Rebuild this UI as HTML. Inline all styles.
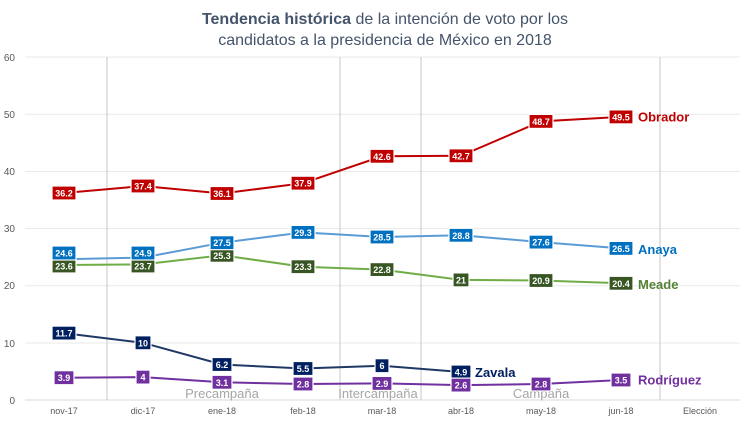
<!DOCTYPE html>
<html><head><meta charset="utf-8"><style>body{margin:0;background:#fff}svg{display:block}</style></head><body>
<svg width="750" height="422" xmlns="http://www.w3.org/2000/svg" font-family="Liberation Sans, sans-serif">
<text x="385" y="24" text-anchor="middle" font-size="16" fill="#44546a"><tspan font-weight="bold">Tendencia histórica</tspan> de la intención de voto por los</text>
<text x="385" y="45" text-anchor="middle" font-size="16" fill="#44546a">candidatos a la presidencia de México en 2018</text>
<g stroke="#e8e8e8" stroke-width="1">
<line x1="25" y1="57" x2="740" y2="57"/><line x1="25" y1="114.2" x2="740" y2="114.2"/><line x1="25" y1="171.4" x2="740" y2="171.4"/><line x1="25" y1="228.6" x2="740" y2="228.6"/><line x1="25" y1="285.8" x2="740" y2="285.8"/><line x1="25" y1="343" x2="740" y2="343"/>
</g>
<line x1="25" y1="400" x2="740" y2="400" stroke="#d9d9d9"/>
<g stroke="#d0d0d0" stroke-width="1.2">
<line x1="107" y1="57" x2="107" y2="400"/><line x1="340" y1="57" x2="340" y2="400"/><line x1="421" y1="57" x2="421" y2="400"/><line x1="660" y1="57" x2="660" y2="400"/>
</g>
<g font-size="10" fill="#595959" text-anchor="end">
<text x="15" y="61">60</text><text x="15" y="118">50</text><text x="15" y="175">40</text><text x="15" y="232">30</text><text x="15" y="289">20</text><text x="15" y="347">10</text><text x="15" y="404">0</text>
</g>
<g font-size="9" fill="#595959" text-anchor="middle">
<text x="64" y="414">nov-17</text><text x="143" y="414">dic-17</text><text x="222" y="414">ene-18</text><text x="303" y="414">feb-18</text><text x="382" y="414">mar-18</text><text x="461" y="414">abr-18</text><text x="541" y="414">may-18</text><text x="621" y="414">jun-18</text><text x="700" y="414">Elección</text>
</g>
<g font-size="13" fill="#a6a6a6" text-anchor="middle">
<text x="222" y="398">Precampaña</text><text x="378" y="398">Intercampaña</text><text x="541" y="398">Campaña</text>
</g>
<polyline fill="none" stroke="#c00000" stroke-width="2" points="64,193 143,186 222,193.5 303,183.2 382,156.3 461,155.8 541,121.4 621,116.9"/>
<polyline fill="none" stroke="#5b9bd5" stroke-width="2" points="64,259.3 143,257.6 222,242.7 303,232.4 382,237 461,235.3 541,242.1 621,248.4"/>
<polyline fill="none" stroke="#70ad47" stroke-width="2" points="64,265 143,264.4 222,255.3 303,266.7 382,269.6 461,279.9 541,280.5 621,283.3"/>
<polyline fill="none" stroke="#1f3864" stroke-width="2" points="64,333.1 143,342.8 222,364.5 303,368.5 382,365.7 461,372"/>
<polyline fill="none" stroke="#7030a0" stroke-width="2" points="64,377.7 143,377.1 222,382.3 303,384 382,383.4 461,385.1 541,384 621,380"/>
<g font-size="9" font-weight="bold" fill="#fff" text-anchor="middle" stroke-width="1.2">
<g fill="#c00000" stroke="#fff">
<rect x="52" y="186" width="24" height="14"/><rect x="131" y="179" width="24" height="14"/><rect x="210" y="186.5" width="24" height="14"/><rect x="291" y="176.2" width="24" height="14"/><rect x="370" y="149.3" width="24" height="14"/><rect x="449" y="148.8" width="24" height="14"/><rect x="529" y="114.4" width="24" height="14"/><rect x="609" y="109.9" width="24" height="14"/>
</g>
<g fill="#375623" stroke="#fff">
<rect x="52" y="259" width="24" height="14"/><rect x="131" y="259" width="24" height="14"/><rect x="210" y="248.3" width="24" height="14"/><rect x="291" y="259.7" width="24" height="14"/><rect x="370" y="262.6" width="24" height="14"/><rect x="453" y="272.9" width="16" height="14"/><rect x="529" y="273.5" width="24" height="14"/><rect x="609" y="276.3" width="24" height="14"/>
</g>
<g fill="#0070c0" stroke="#fff">
<rect x="52" y="246" width="24" height="14"/><rect x="131" y="246" width="24" height="14"/><rect x="210" y="235.7" width="24" height="14"/><rect x="291" y="225.4" width="24" height="14"/><rect x="370" y="230" width="24" height="14"/><rect x="449" y="228.3" width="24" height="14"/><rect x="529" y="235.1" width="24" height="14"/><rect x="609" y="241.4" width="24" height="14"/>
</g>
<g fill="#002060" stroke="#fff">
<rect x="52" y="326.1" width="24" height="14"/><rect x="135" y="335.8" width="16" height="14"/><rect x="212" y="357.5" width="20" height="14"/><rect x="293" y="361.5" width="20" height="14"/><rect x="375" y="358.7" width="14" height="14"/><rect x="451" y="365" width="20" height="14"/>
</g>
<g fill="#7030a0" stroke="#fff">
<rect x="54" y="370.7" width="20" height="14"/><rect x="136" y="370.1" width="14" height="14"/><rect x="212" y="375.3" width="20" height="14"/><rect x="293" y="377" width="20" height="14"/><rect x="372" y="376.4" width="20" height="14"/><rect x="451" y="378.1" width="20" height="14"/><rect x="531" y="377" width="20" height="14"/><rect x="611" y="373" width="20" height="14"/>
</g>
<g>
<text x="64" y="196.5">36.2</text><text x="143" y="189.5">37.4</text><text x="222" y="197">36.1</text><text x="303" y="186.7">37.9</text><text x="382" y="159.8">42.6</text><text x="461" y="159.3">42.7</text><text x="541" y="124.9">48.7</text><text x="621" y="120.4">49.5</text>
<text x="64" y="256.5">24.6</text><text x="143" y="256.5">24.9</text><text x="222" y="246.2">27.5</text><text x="303" y="235.9">29.3</text><text x="382" y="240.5">28.5</text><text x="461" y="238.8">28.8</text><text x="541" y="245.6">27.6</text><text x="621" y="251.9">26.5</text>
<text x="64" y="269.5">23.6</text><text x="143" y="269.5">23.7</text><text x="222" y="258.8">25.3</text><text x="303" y="270.2">23.3</text><text x="382" y="273.1">22.8</text><text x="461" y="283.4">21</text><text x="541" y="284">20.9</text><text x="621" y="286.8">20.4</text>
<text x="64" y="336.6">11.7</text><text x="143" y="346.3">10</text><text x="222" y="368">6.2</text><text x="303" y="372">5.5</text><text x="382" y="369.2">6</text><text x="461" y="375.5">4.9</text>
<text x="64" y="381.2">3.9</text><text x="143" y="380.6">4</text><text x="222" y="385.8">3.1</text><text x="303" y="387.5">2.8</text><text x="382" y="386.9">2.9</text><text x="461" y="388.6">2.6</text><text x="541" y="387.5">2.8</text><text x="621" y="383.5">3.5</text>
</g>
</g>
<g font-size="13" font-weight="bold">
<text x="638" y="121.5" fill="#c00000">Obrador</text>
<text x="638" y="254" fill="#0070c0">Anaya</text>
<text x="638" y="289" fill="#548235">Meade</text>
<text x="475" y="377" fill="#002060">Zavala</text>
<text x="638" y="384.5" fill="#7030a0">Rodríguez</text>
</g>
</svg>
</body></html>
